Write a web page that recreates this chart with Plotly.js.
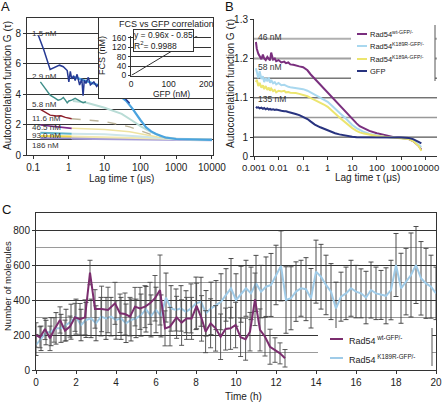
<!DOCTYPE html>
<html><head><meta charset="utf-8">
<script src="https://cdn.plot.ly/plotly-3.0.1.min.js"></script>
<style>html,body{margin:0;padding:0;background:#fff}</style>
</head><body><div id="chart" style="width:448px;height:402px"></div>
<script>
// ---------- Panel A: FCS curves at different GFP concentrations ----------
const concLabelsA = ['1.5 nM','2.9 nM','5.8 nM','11.6 nM','46.5 nM','93.0 nM','186 nM'];
const lagA1raw = [0.14,0.2,0.3,0.4,0.55,0.7,0.9,1.0,1.1,1.2,1.35,1.5,1.7,2.0,2.3,2.5,2.7,3.0,3.5,4,5,6,7,8,10,12,15,20,25,30,40,50];
const gA1raw   = [7.87,6.9,5.62,5.75,5.9,5.8,5.55,4.8,5.5,5.0,5.2,4.9,5.3,4.6,5.0,3.9,4.9,4.7,5.1,4.6,4.8,4.5,4.7,4.4,4.5,4.3,4.35,4.1,4.0,3.9,3.65,3.4];
const lagA1fit = [1.3,2,5,10,20,40,60,76,100,144,200,275,500,1000,3000,10000];
const gA1fit   = [5.15,5.0,4.7,4.45,4.12,3.56,3.05,2.69,2.3,1.82,1.55,1.38,1.15,1.05,1.01,1.0];
const lagA2raw = [0.16,0.2,0.3,0.4,0.5,0.6,0.7,0.8,0.9,1.0,1.2,1.5,2,2.5,3];
const gA2raw   = [4.8,4.5,3.93,3.75,3.6,3.65,3.78,3.6,3.43,3.55,3.6,3.72,3.55,3.43,3.5];
const lagA2fit = [1.3,3,10,30,60,100,200,400,1000,3000,10000];
const gA2fit   = [3.55,3.45,3.1,2.7,2.25,1.9,1.5,1.2,1.06,1.01,1.0];
const lagA3raw = [0.16,0.2,0.3,0.45,0.6,0.8,1.0,1.2];
const gA3raw   = [3.0,2.85,2.62,2.56,2.58,2.47,2.4,2.38];
const lagA3fit = [1.2,10,50,100,200,500,1000,10000];
const gA3fit   = [2.38,2.2,1.85,1.6,1.35,1.12,1.05,1.0];
const lagA4raw = [0.16,0.3,0.5,0.8,1.2];
const gA4raw   = [1.97,1.9,1.82,1.78,1.75];
const lagA4fit = [1.2,10,50,100,300,1000,10000];
const gA4fit   = [1.75,1.68,1.52,1.4,1.18,1.05,1.0];
const lagA5raw = [0.16,0.5,1.2];
const gA5raw   = [1.46,1.42,1.4];
const lagA5fit = [1.2,10,100,1000,10000];
const gA5fit   = [1.4,1.37,1.22,1.03,1.0];
const lagA6raw = [0.16,1.2];
const gA6raw   = [1.25,1.22];
const lagA6fit = [1.2,100,1000,10000];
const gA6fit   = [1.22,1.12,1.02,1.0];
const lagA7raw = [0.16,1.2];
const gA7raw   = [1.1,1.1];
const lagA7fit = [1.2,100,1000,10000];
const gA7fit   = [1.1,1.06,1.01,1.0];
const lagTicksA = [0.1,1,10,100,1000,10000];
const lagTickTextA = ['0.1','1','10','100','1000','10000'];

// inset: FCS vs GFP
const gfpInset = [1.5,2.9,5.8,11.6,46.5,93,186];
const fcsInset = [1.2,2.1,4.6,10.5,44,89,178];

// ---------- Panel B ----------
const lagB = [0.0012,0.0013,0.0015,0.0017,0.002,0.0023,0.0026,0.003,0.0035,0.004,
  0.0045,0.005,0.006,0.007,0.008,0.01,0.013,0.017,0.02,0.025,
  0.03,0.04,0.05,0.07,0.1,0.15,0.2,0.3,0.5,0.7,
  1,1.5,2,3,5,7,10,15,20,30,
  50,100,200,500,1000,2000,3000,5000,6500];
const gWt = [1.242,1.225,1.212,1.205,1.198,1.21,1.2,1.196,1.204,1.199,
  1.195,1.215,1.197,1.2,1.193,1.196,1.19,1.192,1.188,1.19,
  1.185,1.184,1.182,1.18,1.178,1.17,1.16,1.148,1.133,1.124,
  1.115,1.103,1.093,1.08,1.066,1.055,1.045,1.035,1.028,1.022,
  1.016,1.01,1.005,1.0,0.998,0.995,0.99,0.978,0.968];
const gK189R = [1.175,1.162,1.15,1.168,1.148,1.155,1.14,1.15,1.142,1.152,
  1.138,1.145,1.137,1.14,1.134,1.138,1.132,1.133,1.13,1.128,
  1.127,1.126,1.125,1.124,1.122,1.118,1.114,1.108,1.1,1.096,
  1.09,1.08,1.072,1.062,1.05,1.04,1.031,1.023,1.018,1.013,
  1.008,1.004,1.001,0.999,0.998,0.996,0.992,0.982,0.975];
const gK189A = [1.14,1.146,1.13,1.138,1.126,1.132,1.122,1.13,1.12,1.126,
  1.118,1.124,1.117,1.12,1.114,1.118,1.116,1.118,1.114,1.115,
  1.113,1.113,1.112,1.11,1.108,1.104,1.1,1.095,1.088,1.083,
  1.077,1.068,1.06,1.05,1.039,1.03,1.023,1.016,1.012,1.009,
  1.006,1.003,1.001,0.999,0.998,0.995,0.99,0.978,0.965];
const gGFP = [1.077,1.075,1.076,1.073,1.075,1.072,1.074,1.071,1.073,1.07,
  1.072,1.07,1.071,1.069,1.07,1.068,1.067,1.066,1.066,1.064,
  1.063,1.061,1.059,1.056,1.052,1.046,1.04,1.032,1.025,1.021,
  1.018,1.013,1.01,1.007,1.004,1.002,1.001,1.0,1.0,1.0,
  1.0,1.0,1.0,0.999,0.999,0.998,0.995,0.988,0.984];
const namesB = ['Rad54<sup>wt-GFP/-</sup>','Rad54<sup>K189R-GFP/-</sup>','Rad54<sup>K189A-GFP/-</sup>','GFP'];
const concLabelsB = ['46 nM','58 nM','135 nM'];
const lagTicksB = [0.001,0.01,0.1,1,10,100,1000,10000];
const lagTickTextB = ['0.001','0.01','0.1','1','10','100','1000','10000'];
const gTicksB = [0.952,1,1.1,1.2,1.3];
const gTickTextB = ['0','1','1.1','1.2','1.3'];

// ---------- Panel C ----------
const timeWt = [0,0.2,0.45,0.7,0.9,1.2,1.45,1.7,1.95,2.2,2.45,2.7,2.95,3.28,3.6,3.95,4.2,4.45,4.7,4.95,
  5.2,5.45,5.7,5.95,6.2,6.45,6.7,7.03,7.28,7.53,7.78,8.03,8.28,8.48,8.73,8.98,9.23,9.48,9.73,9.98,
  10.23,10.48,10.7,10.95,11.2,11.45,11.7,11.95,12.2,12.45];
const molWt = [200,187,234,181,229,286,225,248,301,290,301,557,349,349,343,381,324,320,305,362,
  352,362,381,410,457,238,248,301,271,295,295,366,295,219,267,238,190,234,238,257,
  187,176,219,404,229,190,133,114,95,67];
const errWt = [70,60,60,70,70,75,60,60,80,90,100,70,110,130,130,120,110,120,110,110,
  120,120,120,130,200,100,110,120,130,120,120,130,130,120,140,130,130,120,120,130,
  110,120,110,150,120,110,100,70,60,50];
const timeK = [0,0.25,0.5,0.75,1,1.25,1.5,1.75,2,2.25,2.5,2.75,3,3.25,3.5,3.75,4,4.25,4.5,4.75,
  5,5.25,5.5,5.75,6,6.25,6.5,6.75,7,7.25,7.5,7.75,8,8.25,8.5,8.75,9,9.25,9.5,9.75,
  10,10.25,10.5,10.75,11,11.25,11.5,11.75,12,12.25,12.5,12.75,13,13.25,13.5,13.75,14,14.25,14.5,14.75,
  15,15.25,15.5,15.75,16,16.25,16.5,16.75,17,17.25,17.5,17.75,18,18.25,18.5,18.75,19,19.25,19.5,19.75,20];
const molK = [143,181,214,219,238,238,257,276,305,257,286,295,267,305,295,305,286,295,267,286,
  295,314,347,309,343,309,414,352,343,352,333,352,381,390,324,352,371,390,429,467,
  400,433,467,438,495,448,476,486,543,595,400,410,448,467,462,410,562,533,486,448,
  352,419,438,467,448,438,414,457,438,429,424,457,600,467,505,543,600,524,495,476,438];
const errK = [60,70,70,80,90,80,90,100,100,90,100,110,100,110,120,110,110,120,110,120,
  110,120,130,120,130,120,140,130,120,130,120,140,150,140,130,150,140,160,150,170,
  150,160,160,150,160,150,170,180,170,200,190,180,170,160,180,170,180,185,170,160,
  150,140,150,160,150,140,150,160,150,140,160,170,180,200,190,240,220,210,200,180,150];
const namesC = ['Rad54<sup> wt-GFP/-</sup>','Rad54<sup> K189R-GFP/-</sup>'];

// ---------- helpers ----------
const W = 448, H = 402;
const dx = p => p / W;
const dy = p => 1 - p / H;
const FONT = 'Liberation Sans, Arial, Helvetica, sans-serif';

const traces = [];
function lineA(x, y, color, width, dash) {
  traces.push({x, y, type:'scatter', mode:'lines', xaxis:'x', yaxis:'y', showlegend:false,
    line:{color, width, dash: dash || 'solid'}, hoverinfo:'skip'});
}
lineA(lagA7fit, gA7fit, '#a49bd6', 3);
lineA(lagA6fit, gA6fit, '#f3e9b0', 2);
lineA(lagA5fit, gA5fit, '#cde5ea', 2);
lineA(lagA4fit, gA4fit, '#efe3a0', 1.5);
lineA(lagA3fit, gA3fit, '#bdb59a', 1.3, 'dash');
lineA(lagA2fit, gA2fit, '#b9dcd6', 2);
lineA(lagA1fit, gA1fit, '#4aa3df', 2.2);
lineA(lagA7raw, gA7raw, '#8f86cc', 2);
lineA(lagA6raw, gA6raw, '#f0d64a', 2);
lineA(lagA5raw, gA5raw, '#5fb3c9', 2);
lineA(lagA4raw, gA4raw, '#7d2b8b', 1.6);
lineA(lagA3raw, gA3raw, '#8e1f2a', 1.4);
lineA(lagA2raw, gA2raw, '#3f8e89', 1.4);
lineA(lagA1raw, gA1raw, '#263a94', 1.5);

// inset box (empty subplot) and inset plot
traces.push({x:[null], y:[null], type:'scatter', mode:'lines', xaxis:'x4', yaxis:'y4', showlegend:false, hoverinfo:'skip'});
traces.push({x:gfpInset, y:fcsInset, type:'scatter', mode:'lines', xaxis:'x5', yaxis:'y5', showlegend:false,
  line:{color:'#333', width:1}, hoverinfo:'skip'});

// Panel B
const colorsB = ['#7a2f7e','#a9d8ef','#ece56e','#28337f'];
[gWt, gK189R, gK189A, gGFP].forEach((g, i) => {
  traces.push({x:lagB, y:g, type:'scatter', mode:'lines', xaxis:'x2', yaxis:'y2', name:namesB[i],
    showlegend:false, line:{color:colorsB[i], width:2}, hoverinfo:'skip'});
});

// Panel C
const colorsC = ['#7b2d6e','#9fcbe8'];
traces.push({x:timeK, y:molK, type:'scatter', mode:'lines', xaxis:'x3', yaxis:'y3', name:namesC[1],
  showlegend:false, line:{color:colorsC[1], width:2},
  error_y:{type:'data', array:errK, visible:true, color:'#3a3a3a', thickness:0.9, width:2.5}, hoverinfo:'skip'});
traces.push({x:timeWt, y:molWt, type:'scatter', mode:'lines', xaxis:'x3', yaxis:'y3', name:namesC[0],
  showlegend:false, line:{color:colorsC[0], width:2},
  error_y:{type:'data', array:errWt, visible:true, color:'#4a4a4a', thickness:0.9, width:2.5}, hoverinfo:'skip'});

// ---------- annotations ----------
function ann(text, x, y, opts) {
  return Object.assign({text, x:dx(x), y:dy(y), xref:'paper', yref:'paper', showarrow:false,
    xanchor:'center', yanchor:'middle', font:{size:10, color:'#222'}}, opts || {});
}
const annotations = [
  ann('A', 5, 7, {font:{size:13, color:'#111'}}),
  ann('B', 229, 7, {font:{size:13, color:'#111'}}),
  ann('C', 6, 209, {font:{size:13, color:'#111'}}),
  ann('Autocorrelation function G (τ)', 7, 86, {textangle:-90, font:{size:10, color:'#222'}}),
  ann('Lag time τ (μs)', 122, 178, {font:{size:10, color:'#222'}}),
  ann('Autocorrelation function G (τ)', 231, 84, {textangle:-90, font:{size:10, color:'#222'}}),
  ann('Lag time τ (μs)', 367, 177, {font:{size:10, color:'#222'}}),
  ann('Number of molecules', 7, 286, {textangle:-90, font:{size:9.5, color:'#222'}}),
  ann('Time (h)', 244, 396, {font:{size:10, color:'#222'}}),
  ann('FCS vs GFP correlation', 166, 24, {font:{size:9, color:'#222'}}),
  ann('FCS (nM)', 102, 56, {textangle:-90, font:{size:9, color:'#222'}}),
  ann('GFP (nM)', 171, 94.5, {font:{size:8.5, color:'#222'}}),
  ann('y = 0.96x - 0.85<br>R<sup>2</sup>= 0.9988', 133, 40, {xanchor:'left', align:'left',
    bgcolor:'#fff', bordercolor:'#333', borderwidth:1, borderpad:0, font:{size:8.5, color:'#222'}})
];
const labelYA = [34, 76, 105, 118, 127, 135, 145];
concLabelsA.forEach((t, i) => annotations.push(ann(t, 30, labelYA[i], {xanchor:'left', font:{size:8, color:'#333'}})));
const labelYB = [37, 67, 99];
concLabelsB.forEach((t, i) => annotations.push(ann(t, 256, labelYB[i], {xanchor:'left', font:{size:8.5, color:'#333'}})));

// B gridlines
const gridB = [[1.25,'#b0b0b0',2],[1.2,'#a0a0a0',2],[1.15,'#333',1],[1.1,'#333',1],[1.05,'#999',1.5],[1.0,'#555',1.2]];
const shapes = gridB.map(g => ({type:'line', xref:'x2 domain', yref:'y2', x0:0, x1:1, y0:g[0], y1:g[0],
  line:{color:g[1], width:g[2]}, layer:'below'}));

// manual legends (white boxes hide gridlines, as in the reference)
function legendBox(x0, x1, y0, y1) {
  shapes.push({type:'rect', xref:'paper', yref:'paper', x0:dx(x0), x1:dx(x1), y0:dy(y1), y1:dy(y0),
    fillcolor:'#fff', line:{width:0}, layer:'above'});
  shapes.push({type:'line', xref:'paper', yref:'paper', x0:dx(x1), x1:dx(x1), y0:dy(y1), y1:dy(y0),
    line:{color:'#555', width:1}, layer:'above'});
}
legendBox(351, 435, 25, 81);
const legRowsB = [34, 46, 59, 71];
namesB.forEach((n, i) => {
  shapes.push({type:'line', xref:'paper', yref:'paper', x0:dx(357), x1:dx(367), y0:dy(legRowsB[i]), y1:dy(legRowsB[i]),
    line:{color:colorsB[i], width:2}, layer:'above'});
  annotations.push(ann(n, 368, legRowsB[i], {xanchor:'left', font:{size:7.5, color:'#222'}}));
});
legendBox(318, 432, 328, 366);
const legRowsC = [339, 358];
namesC.forEach((n, i) => {
  shapes.push({type:'line', xref:'paper', yref:'paper', x0:dx(330), x1:dx(343), y0:dy(legRowsC[i]), y1:dy(legRowsC[i]),
    line:{color:colorsC[i], width:2}, layer:'above'});
  annotations.push(ann(n, 347, legRowsC[i] + 1, {xanchor:'left', font:{size:9, color:'#222'}}));
});

const axBase = {showline:true, linecolor:'#333', linewidth:1, zeroline:false, ticks:'outside', ticklen:3,
  tickcolor:'#333', tickfont:{size:10, color:'#222'}, automargin:false, tickangle:0};

const layout = {
  width:W, height:H, margin:{l:0, r:0, t:0, b:0}, paper_bgcolor:'#fff', plot_bgcolor:'#fff',
  font:{family:FONT, size:10, color:'#222'}, showlegend:false,
  xaxis: Object.assign({}, axBase, {domain:[dx(27), dx(213)], type:'log', range:[-1.17, 4.03],
    tickvals:lagTicksA, ticktext:lagTickTextA, mirror:true, showgrid:false, anchor:'y'}),
  yaxis: Object.assign({}, axBase, {domain:[dy(155), dy(18)], range:[0, 9], tickvals:[0,2,4,6,8],
    mirror:true, showgrid:true, gridcolor:'#333', gridwidth:1,
    minor:{dtick:1, tick0:0, showgrid:true, gridcolor:'#333', gridwidth:1}, anchor:'x'}),
  xaxis2: Object.assign({}, axBase, {domain:[dx(254), dx(437)], type:'log', range:[-3, 4.45],
    tickvals:lagTicksB, ticktext:lagTickTextB, showgrid:false, anchor:'y2',
    tickfont:{size:9.5, color:'#222'}}),
  yaxis2: Object.assign({}, axBase, {domain:[dy(156), dy(19)], range:[0.952, 1.3005],
    tickvals:gTicksB, ticktext:gTickTextB, showgrid:false, anchor:'x2'}),
  xaxis3: Object.assign({}, axBase, {domain:[dx(36), dx(436)], range:[0, 20], dtick:2, tick0:0,
    mirror:true, showgrid:false, anchor:'y3'}),
  yaxis3: Object.assign({}, axBase, {domain:[dy(370), dy(212.5)], range:[0, 900], dtick:200, tick0:0,
    mirror:true, showgrid:true, gridcolor:'#333', gridwidth:1,
    minor:{dtick:100, tick0:0, showgrid:true, gridcolor:'#9a9a9a', gridwidth:1}, anchor:'x3'}),
  xaxis4: {domain:[dx(99), dx(213)], range:[0,1], showline:true, mirror:true, linecolor:'#333',
    showticklabels:false, showgrid:false, zeroline:false, ticks:'', anchor:'y4', fixedrange:true},
  yaxis4: {domain:[dy(98), dy(18)], range:[0,1], showline:true, mirror:true, linecolor:'#333',
    showticklabels:false, showgrid:false, zeroline:false, ticks:'', anchor:'x4', fixedrange:true},
  xaxis5: Object.assign({}, axBase, {domain:[dx(131), dx(211)], range:[0, 213], tickvals:[0,100,200],
    ticks:'', showgrid:false, tickfont:{size:8.5, color:'#222'}, anchor:'y5'}),
  yaxis5: Object.assign({}, axBase, {domain:[dy(75.5), dy(36)], range:[0, 168], tickvals:[0,40,80,120,160],
    ticklen:2, showgrid:true, gridcolor:'#333', gridwidth:1, tickfont:{size:8.5, color:'#222'}, anchor:'x5'}),
  annotations, shapes
};

Plotly.newPlot('chart', traces, layout, {staticPlot:true, displayModeBar:false});
</script>
</body></html>
